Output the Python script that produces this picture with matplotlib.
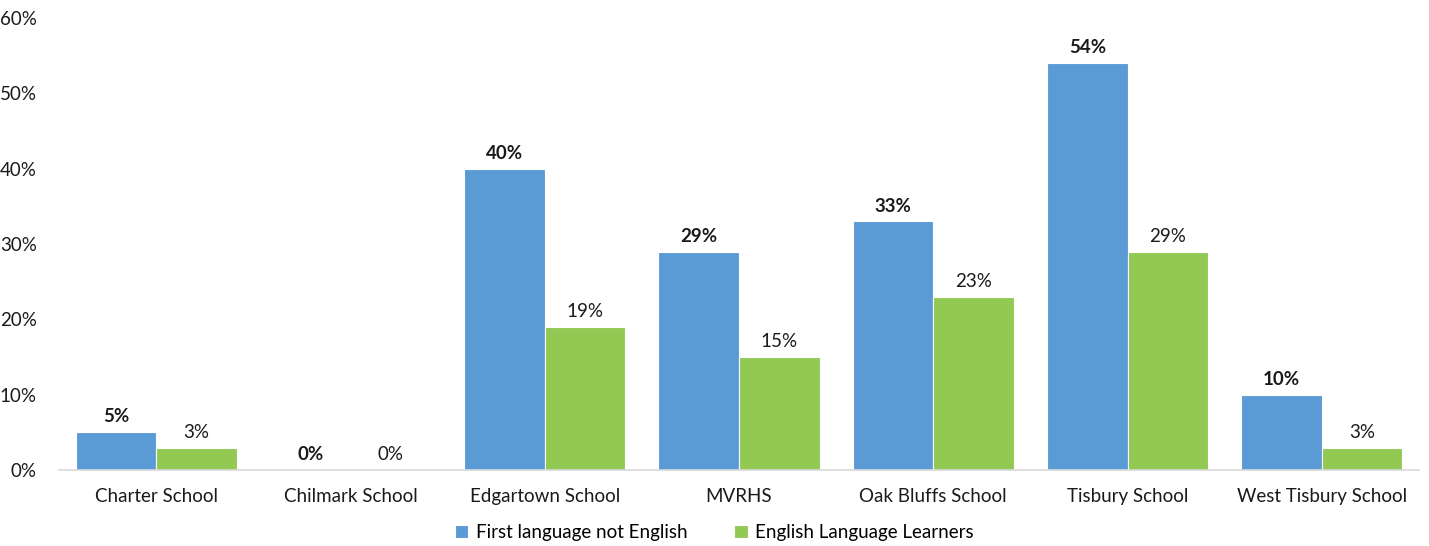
import matplotlib
matplotlib.use("Agg")
import matplotlib.pyplot as plt
import numpy as np
from matplotlib.ticker import FuncFormatter

plt.rcParams['font.family'] = ['Lato', 'DejaVu Sans']

schools = ["Charter School", "Chilmark School", "Edgartown School", "MVRHS",
           "Oak Bluffs School", "Tisbury School", "West Tisbury School"]
first_lang = [5, 0, 40, 29, 33, 54, 10]
ell = [3, 0, 19, 15, 23, 29, 3]
series_names = ["First language not English", "English Language Learners"]
colors = ["#5B9BD5", "#92C953"]

fs = 13.5

fig = plt.figure(figsize=(14.29, 5.46), dpi=100)
ax = fig.add_axes([0.0413, 0.139, 0.9517, 0.828])

x = np.arange(len(schools))
w = 0.415
b1 = ax.bar(x - w/2, first_lang, w, color=colors[0], edgecolor="white", linewidth=0.8, label=series_names[0])
b2 = ax.bar(x + w/2, ell, w, color=colors[1], edgecolor="white", linewidth=0.8, label=series_names[1])

for rect, v in zip(b1, first_lang):
    ax.annotate(f"{v}%", (rect.get_x() + rect.get_width()/2, v), xytext=(0, 5),
                textcoords="offset points", ha="center", va="bottom",
                fontsize=fs, fontweight="bold", color="#1a1a1a")
for rect, v in zip(b2, ell):
    ax.annotate(f"{v}%", (rect.get_x() + rect.get_width()/2, v), xytext=(0, 5),
                textcoords="offset points", ha="center", va="bottom",
                fontsize=fs, color="#1a1a1a")

ax.set_xlim(-0.5, len(schools) - 0.5)
ax.set_ylim(0, 60)
ax.set_yticks(np.arange(0, 61, 10))
ax.yaxis.set_major_formatter(FuncFormatter(lambda v, p: f"{int(v)}%"))
ax.set_xticks(x)
ax.set_xticklabels(schools)
ax.tick_params(axis="both", length=0, labelsize=fs, colors="#1a1a1a")
ax.tick_params(axis="x", pad=13)
ax.tick_params(axis="y", pad=16)
for s in ["top", "right", "left"]:
    ax.spines[s].set_visible(False)
ax.spines["bottom"].set_color("#d9d9d9")
ax.spines["bottom"].set_linewidth(1.2)

fig.legend(loc="center", bbox_to_anchor=(0.5, 0.024), ncol=2, frameon=False,
           fontsize=fs, handlelength=0.7, handleheight=0.7, handletextpad=0.4,
           columnspacing=2.5)

fig.savefig("out.png", dpi=100)
